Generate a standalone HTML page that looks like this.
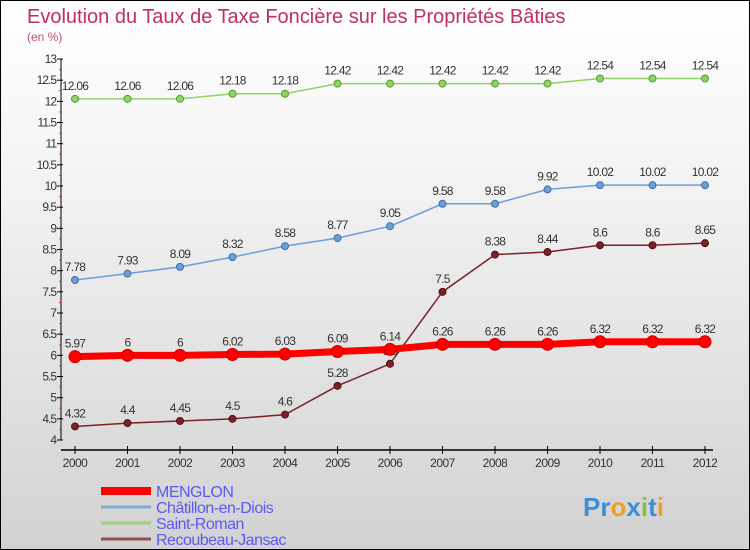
<!DOCTYPE html>
<html><head><meta charset="utf-8"><style>
body{margin:0}
#c{width:748px;height:548px;border:1px solid #000;background:linear-gradient(#fff 0%,#f4f4f4 30%,#d2d2d2 100%);position:relative;overflow:hidden;font-family:"Liberation Sans",sans-serif}
</style></head><body>
<div id="c">
<svg id="s" width="748" height="548"></svg>
</div>
<script>
const years=["2000","2001","2002","2003","2004","2005","2006","2007","2008","2009","2010","2011","2012"];
const menglon=[5.97,6,6,6.02,6.03,6.09,6.14,6.26,6.26,6.26,6.32,6.32,6.32];
const chatillon=[7.78,7.93,8.09,8.32,8.58,8.77,9.05,9.58,9.58,9.92,10.02,10.02,10.02];
const saintRoman=[12.06,12.06,12.06,12.18,12.18,12.42,12.42,12.42,12.42,12.42,12.54,12.54,12.54];
const recoubeau=[4.32,4.4,4.45,4.5,4.6,5.28,5.8,7.5,8.38,8.44,8.6,8.6,8.65];
const yTicks=["4","4.5","5","5.5","6","6.5","7","7.5","8","8.5","9","9.5","10","10.5","11","11.5","12","12.5","13"];
const seriesNames=["MENGLON","Châtillon-en-Diois","Saint-Roman","Recoubeau-Jansac"];
const NS="http://www.w3.org/2000/svg",s=document.getElementById('s');
const X=i=>74+i*52.5, Y=v=>439-(v-4)*42.33;
function el(t,a,txt){const e=document.createElementNS(NS,t);for(const k in a)e.setAttribute(k,a[k]);if(txt!=null)e.textContent=txt;s.appendChild(e);return e;}
let e;
e=el('text',{x:26,y:22,'font-size':20,fill:'#c0305a'},"Evolution du Taux de Taxe Foncière sur les Propriétés Bâties");

e=el('text',{x:26,y:40,'font-size':12,fill:'#c0507a'},"(en %)");

e=el('line',{x1:60,y1:Y(13),x2:60,y2:Y(4),stroke:'#000'});

yTicks.forEach(t=>{const v=+t,y=Y(v);
 el('line',{x1:56,y1:y,x2:62,y2:y,stroke:'#000'});
 el('line',{x1:58,y1:y+10.6,x2:61,y2:y+10.6,stroke:v>4?'#e33':'none'});
 e=el('text',{x:55,y:y+4,'font-size':12,'text-anchor':'end',fill:'#333','letter-spacing':'-1'},t);
 });
e=el('line',{x1:60,y1:449,x2:712,y2:449,stroke:'#000','stroke-width':1.5});

years.forEach((t,i)=>{el('line',{x1:X(i),y1:445,x2:X(i),y2:453,stroke:'#000'});
 e=el('text',{x:X(i),y:466,'font-size':12,'text-anchor':'middle',fill:'#333','letter-spacing':'-0.5'},t);
 });
function series(d,col,w,r,name,dark){
 e=el('polyline',{points:d.map((v,i)=>X(i)+','+Y(v)).join(' '),fill:'none',stroke:col,'stroke-width':w});
 
 d.forEach((v,i)=>{e=el('circle',{cx:X(i),cy:Y(v),r:r,fill:col,stroke:dark,'stroke-width':1});
  
  e=el('text',{x:X(i),y:Y(v)-9,'font-size':12,'text-anchor':'middle',fill:'#333','letter-spacing':'-0.7'},String(v));
  });
}
series(saintRoman,'#8ed464',1.5,3.5,'saint-roman','#5a9a30');
series(chatillon,'#6a9fd8',1.5,3.5,'chatillon','#3f6fa8');
series(recoubeau,'#7a2228',1.5,3.5,'recoubeau','#501015');
series(menglon,'#f00',7,6,'menglon','#c00');
const lc=['#f00','#7aaed0','#9ed080','#905050'],lw=[8,3,3,3];
seriesNames.forEach((n,i)=>{const y=490+i*16;
 e=el('line',{x1:100,y1:y,x2:150,y2:y,stroke:lc[i],'stroke-width':lw[i]});
 
 e=el('text',{x:155,y:y+6,'font-size':16,fill:'#5a5af0','letter-spacing':'-0.5'},n);
 });
e=el('text',{x:582,y:515,'font-size':26,'font-weight':'bold',fill:'#3a8fd8'},"");

[["P","#3a8fd8"],["r","#3a8fd8"],["o","#f0a020"],["x","#3a8fd8"],["i","#80c040"],["t","#3a8fd8"],["i","#f0a020"]].forEach(([c,f])=>{const t=document.createElementNS(NS,'tspan');t.setAttribute('fill',f);t.textContent=c;e.appendChild(t);});
</script>
</body></html>
